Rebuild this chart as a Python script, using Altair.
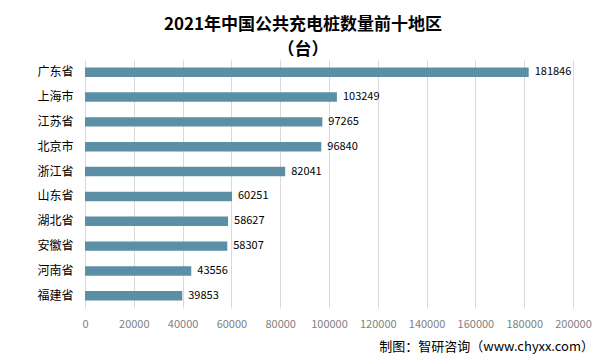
import altair as alt
import pandas as pd

regions = ["广东省", "上海市", "江苏省", "北京市", "浙江省", "山东省", "湖北省", "安徽省", "河南省", "福建省"]
values = [181846, 103249, 97265, 96840, 82041, 60251, 58627, 58307, 43556, 39853]
x_ticks = [0, 20000, 40000, 60000, 80000, 100000, 120000, 140000, 160000, 180000, 200000]
title_lines = ["2021年中国公共充电桩数量前十地区", "（台）"]
source_text = "制图：智研咨询（www.chyxx.com）"

df = pd.DataFrame({"region": regions, "value": values})
FONT = "Noto Sans CJK SC"

y_enc = alt.Y("region:N", sort=regions, title=None,
              scale=alt.Scale(paddingInner=0.62, paddingOuter=0.3),
              axis=alt.Axis(labelFontSize=12, labelColor="#000000", labelFont=FONT,
                            ticks=False, domain=False, labelPadding=12, grid=False))
x_enc = alt.X("value:Q", title=None,
              scale=alt.Scale(domain=[0, 200000], nice=False),
              axis=alt.Axis(values=x_ticks, labelFontSize=11, labelColor="#7f7f7f",
                            labelFont=FONT, ticks=False, domain=False, grid=True,
                            gridColor="#d9d9d9", labelPadding=10, format="d",
                            labelOverlap=False, labelFlush=False))

bars = alt.Chart(df).mark_bar(color="#5b8fa5").encode(x=x_enc, y=y_enc)
labels = alt.Chart(df).mark_text(align="left", dx=6, fontSize=11, font=FONT, color="#000000").encode(
    x="value:Q", y=alt.Y("region:N", sort=regions), text=alt.Text("value:Q", format="d"))
src = alt.Chart(pd.DataFrame({"t": [source_text]})).mark_text(
    align="right", baseline="middle", fontSize=13, font=FONT, color="#000000").encode(
    x=alt.value(509), y=alt.value(287), text="t:N")

chart = alt.layer(bars, labels, src).properties(
    width=488, height=248,
    padding={"left": 77, "top": 52, "right": 25, "bottom": 48},
    autosize=alt.AutoSizeParams(type="none"),
    title=alt.TitleParams(text=title_lines, fontSize=17, font=FONT, fontWeight="bold",
                          color="#000000", lineHeight=25, anchor="middle", dx=-26, offset=1),
    background="white",
).configure_view(stroke=None)

chart.save("out.html", embed_options={"renderer": "svg", "actions": False})
